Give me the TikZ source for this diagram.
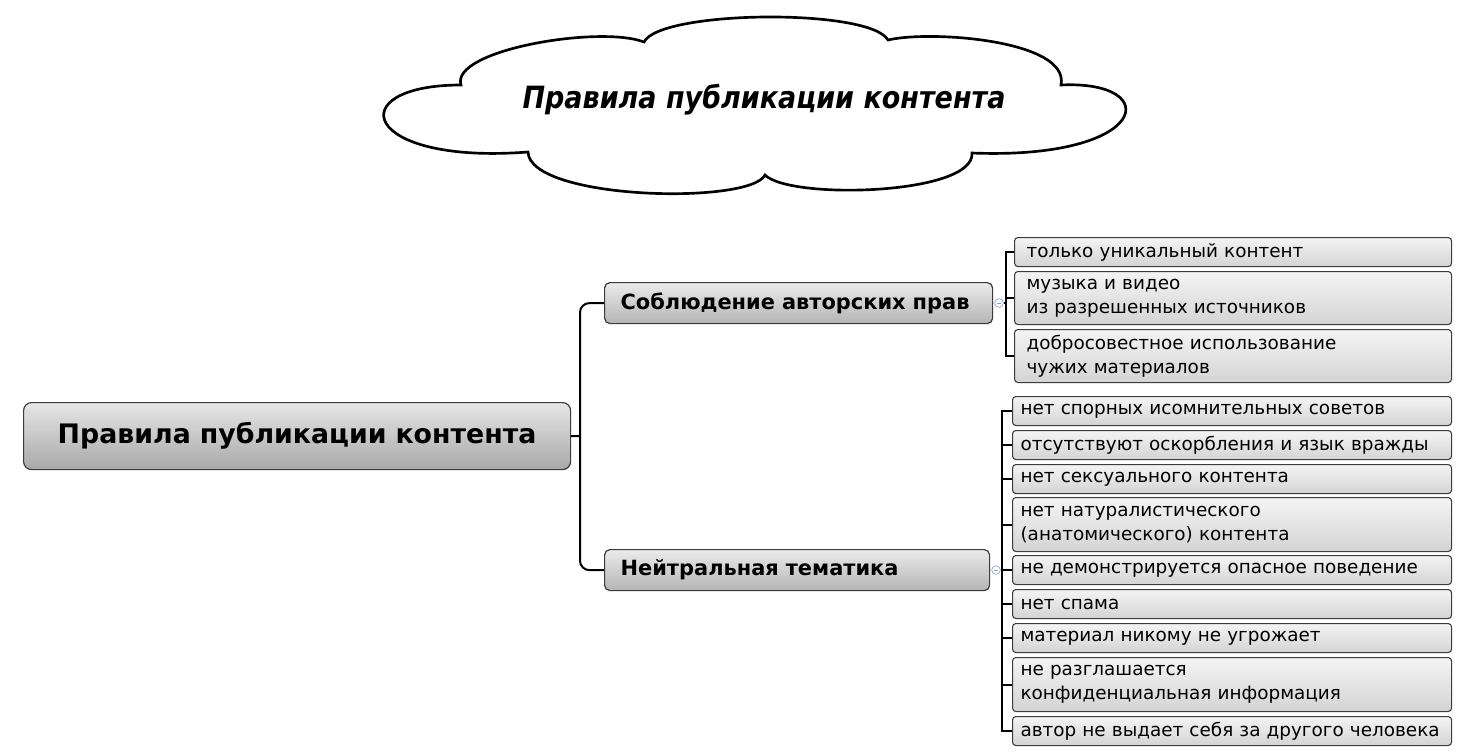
\documentclass[tikz,border=0pt]{standalone}
\usepackage{fontspec}
\setmainfont{DejaVu Sans}
\newfontfamily\cloudfont[FakeStretch=0.88]{DejaVu Sans}
\definecolor{leaftop}{HTML}{F4F4F4}
\definecolor{leafbot}{HTML}{D4D4D4}
\definecolor{boxtop}{HTML}{EBEBEB}
\definecolor{boxbot}{HTML}{B4B4B4}
\definecolor{roottop}{HTML}{E6E6E6}
\definecolor{rootbot}{HTML}{A8A8A8}
\definecolor{edge}{HTML}{3C3C3C}
\definecolor{marker}{HTML}{8EA2D8}
\tikzset{
  leaf/.style={draw=edge, line width=0.8pt, rounded corners=2.5pt,
    top color=leaftop, bottom color=leafbot, anchor=north west,
    align=left, inner ysep=0pt, font=\fontsize{13.8}{18}\selectfont},
  branch/.style={draw=edge, line width=0.9pt, rounded corners=4pt,
    top color=boxtop, bottom color=boxbot, anchor=north west,
    align=left, inner xsep=12pt, inner ysep=0pt,
    font=\fontsize{15.7}{18}\selectfont\bfseries},
  rootbox/.style={draw=edge, line width=0.9pt, rounded corners=6pt,
    top color=roottop, bottom color=rootbot, anchor=north west,
    align=center, inner ysep=0pt,
    font=\fontsize{20.1}{22}\selectfont\bfseries},
  conn/.style={line width=1.5pt, black},
  collapsemark/.style={circle, draw=marker, line width=0.5pt, inner sep=0pt,
    minimum size=6.5pt, path picture={\draw[marker, line width=0.5pt]
      ([xshift=-1.8pt]path picture bounding box.center) -- ([xshift=1.8pt]path picture bounding box.center);}},
  markline/.style={marker, line width=0.5pt, densely dotted},
}
\begin{document}
\begin{tikzpicture}[x=0.75pt, y=-0.75pt]
\useasboundingbox (0,0) rectangle (1481,754);
% cloud
\draw[line width=2pt, black, fill=white]
  (461,85) .. controls (450,50) and (600,25) .. (644,42)
  .. controls (660,10) and (870,8) .. (888,40)
  .. controls (930,30) and (1070,40) .. (1061,85)
  .. controls (1165,80) and (1150,160) .. (972,153)
  .. controls (975,195) and (790,200) .. (765,175)
  .. controls (750,205) and (530,200) .. (528,152)
  .. controls (360,165) and (340,85) .. cycle;
\node[font=\cloudfont\fontsize{23}{26}\selectfont\bfseries\itshape] (title) at (764,100) {Правила публикации контента};
% root
\node[rootbox, minimum width=547*0.75pt, minimum height=67*0.75pt, text width=(547-40)*0.75pt] (root) at (23,402) {Правила публикации контента};
% branches
\node[branch, minimum width=388*0.75pt, minimum height=41*0.75pt, text width=(388-32)*0.75pt] (b1) at (604,282) {Соблюдение авторских прав};
\node[branch, minimum width=385*0.75pt, minimum height=41*0.75pt, text width=(385-32)*0.75pt] (b2) at (604,549) {Нейтральная тематика};
% group 1 leaves
\tikzset{g1/.style={leaf, minimum width=437*0.75pt, inner xsep=9pt, text width=(437-24)*0.75pt}}
\node[g1, minimum height=29*0.75pt] (a1) at (1014,237) {только уникальный контент};
\node[g1, minimum height=53*0.75pt] (a2) at (1014,271) {музыка и видео\\из разрешенных источников};
\node[g1, minimum height=53*0.75pt] (a3) at (1014,329) {добросовестное использование\\чужих материалов};
% group 2 leaves
\tikzset{g2/.style={leaf, minimum width=439*0.75pt, inner xsep=6pt, text width=(439-16)*0.75pt}}
\node[g2, minimum height=29*0.75pt] (c1) at (1012,396) {нет спорных исомнительных советов};
\node[g2, minimum height=29*0.75pt] (c2) at (1012,430) {отсутствуют оскорбления и язык вражды};
\node[g2, minimum height=29*0.75pt] (c3) at (1012,464) {нет сексуального контента};
\node[g2, minimum height=54*0.75pt] (c4) at (1012,497) {нет натуралистического\\(анатомического) контента};
\node[g2, minimum height=29*0.75pt] (c5) at (1012,555) {не демонстрируется опасное поведение};
\node[g2, minimum height=29*0.75pt] (c6) at (1012,589) {нет спама};
\node[g2, minimum height=29*0.75pt] (c7) at (1012,623) {материал никому не угрожает};
\node[g2, minimum height=54*0.75pt] (c8) at (1012,657) {не разглашается\\конфиденциальная информация};
\node[g2, minimum height=29*0.75pt] (c9) at (1012,716) {автор не выдает себя за другого человека};
% root connectors
\coordinate (spine) at (580,436);
\draw[conn] (root.east) -- (spine);
\draw[conn, rounded corners=7pt] (b1.west) -| (spine) |- (b2.west);
% group 1 connectors
\node[collapsemark] (m1) at (999,303) {};
\coordinate (bar1) at (1006,303);
\draw[markline] (b1.east) -- (m1.west);
\draw[conn] (m1.east) -- (bar1);
\draw[conn] (a1.west) -| (bar1) |- (a3.west);
\draw[conn] (a2.west) -- (a2.west -| bar1);
% group 2 connectors
\node[collapsemark] (m2) at (996,570) {};
\coordinate (bar2) at (1002,570);
\draw[markline] (b2.east) -- (m2.west);
\draw[conn] (m2.east) -- (bar2);
\draw[conn] (c1.west) -| (bar2) |- (c9.west);
\foreach \n in {c2,c3,c4,c5,c6,c7,c8} \draw[conn] (\n.west) -- (\n.west -| bar2);
\end{tikzpicture}
\end{document}
